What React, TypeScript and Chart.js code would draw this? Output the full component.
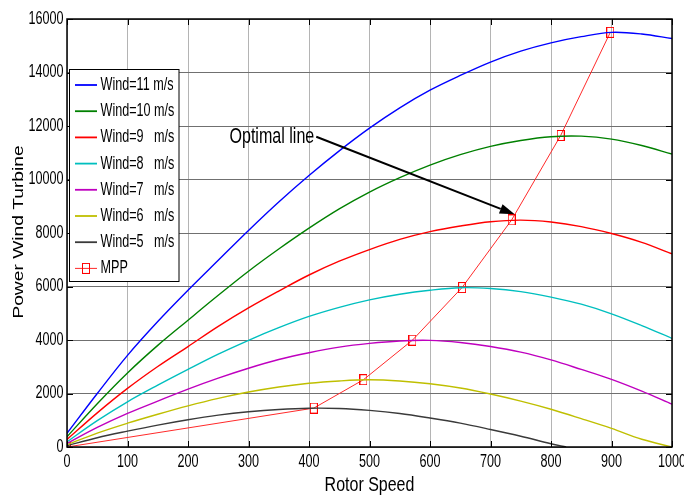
import React, { useEffect, useRef } from "react";
import { Chart, registerables } from "chart.js";
Chart.register(...registerables);

// ---- data ----
const rotorSpeed = [0, 50, 100, 150, 200, 250, 300, 350, 400, 450, 500, 550, 600, 650, 700, 750, 800, 850, 900, 950, 1000];
const wind11 = [512, 2000, 3425, 4690, 5860, 6980, 8095, 9160, 10150, 11070, 11920, 12680, 13340, 13890, 14390, 14800, 15110, 15340, 15500, 15440, 15270];
const wind10 = [385, 1620, 2770, 3800, 4740, 5670, 6570, 7400, 8180, 8900, 9530, 10070, 10540, 10930, 11240, 11460, 11600, 11620, 11510, 11270, 10950];
const wind9 = [280, 1275, 2190, 3010, 3755, 4510, 5200, 5830, 6430, 6945, 7380, 7760, 8050, 8260, 8420, 8480, 8410, 8240, 7980, 7650, 7220];
const wind8 = [197, 985, 1690, 2310, 2900, 3470, 3990, 4460, 4880, 5220, 5500, 5710, 5860, 5955, 5925, 5810, 5605, 5340, 4980, 4540, 4060];
const wind7 = [132, 730, 1255, 1715, 2165, 2575, 2945, 3270, 3525, 3735, 3875, 3965, 3985, 3905, 3755, 3545, 3255, 2900, 2530, 2090, 1600];
const wind6 = [83, 520, 890, 1225, 1540, 1820, 2055, 2245, 2385, 2470, 2513, 2470, 2365, 2205, 1980, 1715, 1410, 1060, 695, 290, 0];
const wind5Speed = [0, 50, 100, 150, 200, 250, 300, 350, 400, 450, 500, 550, 600, 650, 700, 750, 800, 825];
const wind5 = [48, 346, 592, 820, 1021, 1190, 1317, 1403, 1449, 1438, 1368, 1254, 1085, 892, 655, 402, 121, 0];
const mppSpeed = [0, 408, 490, 571, 653, 735, 816, 898];
const mppPower = [0, 1455, 2515, 3995, 5962, 8490, 11645, 15500];

const xTicks = [0, 100, 200, 300, 400, 500, 600, 700, 800, 900, 1000];
const yTicks = [0, 2000, 4000, 6000, 8000, 10000, 12000, 14000, 16000];
const legendLabels = ["Wind=11 m/s", "Wind=10 m/s", "Wind=9   m/s", "Wind=8   m/s", "Wind=7   m/s", "Wind=6   m/s", "Wind=5   m/s", "MPP"];
const seriesColors = ["#0000ff", "#008000", "#ff0000", "#00bfbf", "#bf00bf", "#bfbf00", "#3a3a3a", "#ff2a2a"];
const xTitle = "Rotor Speed";
const yTitle = "Power Wind Turbine";
const annotationText = "Optimal line";
const arrowFrom = { x: 412, y: 11600 };
const arrowTo = { x: 740, y: 8700 };

const FONT = '"Liberation Sans", Arial, sans-serif';

function txt(ctx: CanvasRenderingContext2D, s: string, x: number, y: number, size: number, sx: number, align: CanvasTextAlign, rot = 0) {
  ctx.save();
  ctx.translate(x, y);
  if (rot) ctx.rotate(rot);
  ctx.scale(sx, 1);
  ctx.font = `${size}px ${FONT}`;
  ctx.textAlign = align;
  ctx.textBaseline = "middle";
  ctx.fillStyle = "#000";
  ctx.fillText(s, 0, 0);
  ctx.restore();
}

function makeMarker(): HTMLCanvasElement {
  const c = document.createElement("canvas");
  c.width = 8;
  c.height = 11;
  const g = c.getContext("2d")!;
  g.strokeStyle = "#ff0000";
  g.lineWidth = 1;
  g.strokeRect(0.5, 0.5, 7, 10);
  return c;
}

function pairs(xs: number[], ys: number[]) {
  return xs.map((x, i) => ({ x, y: ys[i] }));
}

export default function App() {
  const ref = useRef<HTMLCanvasElement>(null);
  useEffect(() => {
    document.body.style.margin = "0";
    const canvas = ref.current!;
    const marker = makeMarker();
    const curves = [wind11, wind10, wind9, wind8, wind7, wind6];
    const datasets: any[] = curves.map((ys, i) => ({
      label: legendLabels[i],
      data: pairs(rotorSpeed, ys),
      borderColor: seriesColors[i],
      borderWidth: 1.4,
      pointRadius: 0,
      tension: 0.35,
    }));
    datasets.push({
      label: legendLabels[6],
      data: pairs(wind5Speed, wind5),
      borderColor: seriesColors[6],
      borderWidth: 1.4,
      pointRadius: 0,
      tension: 0.35,
    });
    datasets.push({
      label: legendLabels[7],
      data: pairs(mppSpeed, mppPower),
      borderColor: seriesColors[7],
      borderWidth: 1,
      pointStyle: marker,
      pointRadius: 5,
      tension: 0,
    });

    const deco = {
      id: "deco",
      afterDraw(chart: any) {
        const ctx: CanvasRenderingContext2D = chart.ctx;
        const a = chart.chartArea;
        const xs = chart.scales.x;
        const ys = chart.scales.y;
        ctx.save();
        // frame
        ctx.strokeStyle = "#000";
        ctx.lineWidth = 1.5;
        ctx.strokeRect(a.left, a.top, a.right - a.left, a.bottom - a.top);
        ctx.lineWidth = 1;
        ctx.beginPath();
        for (const v of xTicks) {
          const px = Math.round(xs.getPixelForValue(v)) + 0.5;
          ctx.moveTo(px, a.bottom);
          ctx.lineTo(px, a.bottom - 6);
          ctx.moveTo(px, a.top);
          ctx.lineTo(px, a.top + 6);
        }
        for (const v of yTicks) {
          const py = Math.round(ys.getPixelForValue(v)) + 0.5;
          ctx.moveTo(a.left, py);
          ctx.lineTo(a.left + 6, py);
          ctx.moveTo(a.right, py);
          ctx.lineTo(a.right - 6, py);
        }
        ctx.stroke();
        // tick labels
        for (const v of xTicks) {
          txt(ctx, String(v), xs.getPixelForValue(v), a.bottom + 15, 18, 0.7, "center");
        }
        for (const v of yTicks) {
          txt(ctx, String(v), a.left - 3.5, ys.getPixelForValue(v), 18, 0.7, "right");
        }
        // titles
        txt(ctx, xTitle, (a.left + a.right) / 2, a.bottom + 39, 19.5, 0.82, "center");
        txt(ctx, yTitle, 18.5, 232, 15, 1.28, "center", -Math.PI / 2);

        // legend
        const lx = 69.5, ly = 69.5, lw = 109.5, lh = 212;
        ctx.fillStyle = "#fff";
        ctx.fillRect(lx, ly, lw, lh);
        ctx.strokeStyle = "#000";
        ctx.lineWidth = 1;
        ctx.strokeRect(lx, ly, lw, lh);
        legendLabels.forEach((lab, i) => {
          const yy = 85 + i * 26.2;
          ctx.strokeStyle = seriesColors[i];
          ctx.lineWidth = i === 7 ? 1 : 1.8;
          ctx.beginPath();
          ctx.moveTo(75, yy);
          ctx.lineTo(97, yy);
          ctx.stroke();
          if (i === 7) ctx.drawImage(marker, 82, yy - 5.5);
          txt(ctx, lab, 100.5, yy, 18, 0.7, "left");
        });

        // annotation arrow
        const x1 = xs.getPixelForValue(arrowFrom.x), y1 = ys.getPixelForValue(arrowFrom.y);
        const x2 = xs.getPixelForValue(arrowTo.x), y2 = ys.getPixelForValue(arrowTo.y);
        const ang = Math.atan2(y2 - y1, x2 - x1);
        const hl = 15, hw = 5;
        const bx = x2 - hl * Math.cos(ang), by = y2 - hl * Math.sin(ang);
        ctx.strokeStyle = "#000";
        ctx.lineWidth = 2;
        ctx.beginPath();
        ctx.moveTo(x1, y1);
        ctx.lineTo(bx, by);
        ctx.stroke();
        ctx.fillStyle = "#000";
        ctx.beginPath();
        ctx.moveTo(x2, y2);
        ctx.lineTo(bx + hw * Math.sin(ang), by - hw * Math.cos(ang));
        ctx.lineTo(bx - hw * Math.sin(ang), by + hw * Math.cos(ang));
        ctx.closePath();
        ctx.fill();
        txt(ctx, annotationText, x1 - 2, y1, 22, 0.73, "right");
        ctx.restore();
      },
    };

    const chart = new Chart(canvas, {
      type: "line",
      data: { datasets },
      options: {
        animation: false,
        responsive: false,
        devicePixelRatio: 1,
        layout: { padding: { left: 67, right: 12, top: 19, bottom: 50 } },
        plugins: { legend: { display: false }, tooltip: { enabled: false } },
        scales: {
          x: {
            type: "linear",
            min: 0,
            max: 1000,
            ticks: { display: false, stepSize: 100 },
            grid: { color: "#b4b4b4", lineWidth: 1, drawTicks: false },
            border: { display: false },
          },
          y: {
            type: "linear",
            min: 0,
            max: 16000,
            ticks: { display: false, stepSize: 2000 },
            grid: { color: "#707070", lineWidth: 1, drawTicks: false },
            border: { display: false },
          },
        },
      },
      plugins: [deco],
    } as any);
    return () => chart.destroy();
  }, []);
  return <canvas ref={ref} width={684} height={497} style={{ display: "block", width: 684, height: 497 }} />;
}
